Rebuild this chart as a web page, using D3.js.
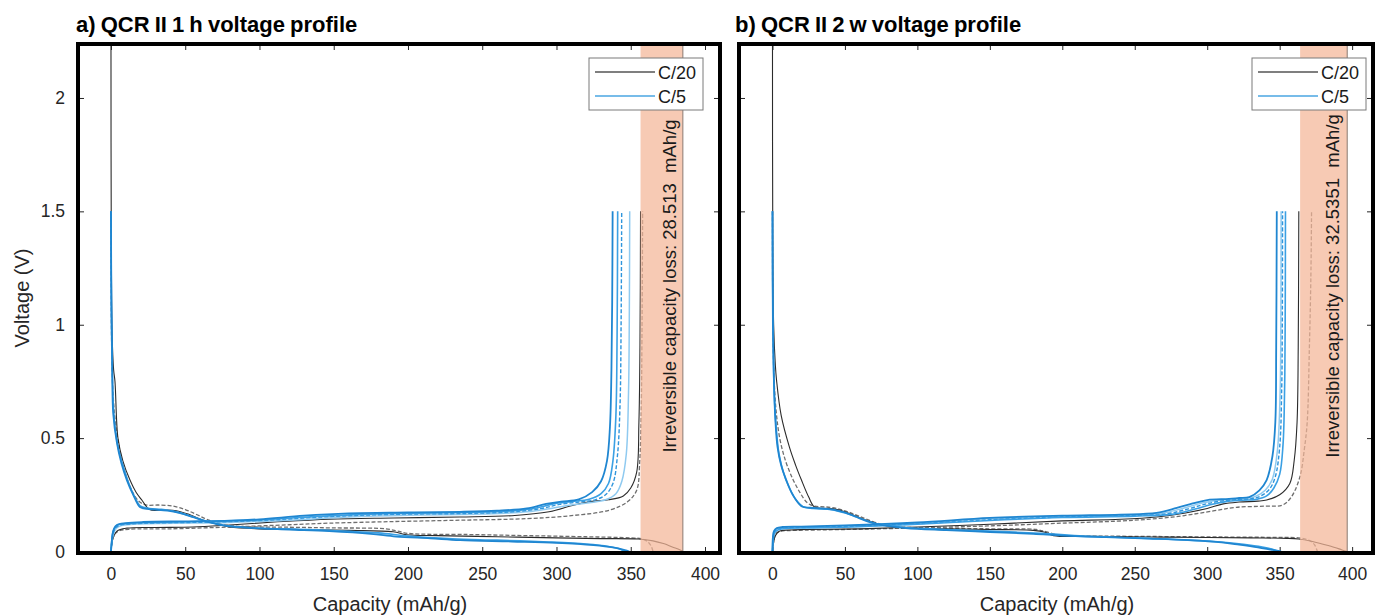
<!DOCTYPE html>
<html>
<head>
<meta charset="utf-8">
<script src="https://cdn.jsdelivr.net/npm/d3@7"></script>
<style>
  body { margin: 0; background: #fff; }
  text { font-family: "Liberation Sans", Arial, Helvetica, sans-serif; }
</style>
</head>
<body>
<div class="canva"></div>
<script>
// ---- data: [capacity mAh/g, voltage V] ----
const xTicks = [0, 50, 100, 150, 200, 250, 300, 350, 400];
const yTicks = [0, 0.5, 1, 1.5, 2];
const yTickLabels = ["0", "0.5", "1", "1.5", "2"];
const legendLabels = ["C/20", "C/5"];

// panel a) QCR II 1 h
const aC20Dis1 = [[0,2.3],[0.2,1.4],[0.8,0.95],[1.8,0.8],[2.7,0.75],[4.7,0.5],[8,0.4],[12.8,0.315],[17,0.26],[21,0.225],[26,0.185],[35,0.183],[44,0.18],[52,0.165],[62,0.138],[72,0.12],[80,0.108],[100,0.1],[130,0.097],[160,0.093],[190,0.087],[199,0.074],[220,0.07],[260,0.065],[300,0.06],[330,0.057],[355,0.055],[365,0.047],[372,0.035],[378,0.02],[383,0.008],[385.1,0]];
const aC20Chg1 = [[0,0],[0.7,0.04],[1.5,0.06],[4,0.09],[10.7,0.103],[30,0.106],[55,0.108],[80,0.117],[110,0.13],[147,0.143],[190,0.148],[235,0.152],[270,0.158],[295,0.175],[312,0.205],[325,0.222],[335,0.228],[345,0.245],[350,0.28],[354,0.35],[355.5,0.57],[356.2,0.9],[356.6,1.5]];
const aC20Dis2 = [[0,1.5],[0.3,1.0],[1,0.75],[2.5,0.6],[5,0.48],[9,0.36],[14,0.27],[19,0.22],[24,0.205],[32,0.205],[42,0.2],[50,0.185],[58,0.162],[66,0.138],[76,0.118],[90,0.11],[120,0.107],[150,0.104],[185,0.1],[193,0.09],[200,0.08],[240,0.075],[280,0.07],[320,0.065],[350,0.06],[358,0.055],[362,0.04],[364,0.02],[365,0]];
const aC20Chg2 = [[0,0],[0.8,0.04],[2,0.07],[5,0.09],[12,0.098],[40,0.1],[80,0.108],[120,0.118],[147,0.125],[190,0.132],[235,0.138],[280,0.145],[310,0.158],[336,0.183],[348,0.22],[354,0.27],[356,0.39],[357,0.6],[357.6,1],[358,1.5]];
const aC5Dis1 = [[0,1.5],[0.3,1.1],[0.9,0.8],[1.5,0.61],[4,0.48],[7,0.39],[10.7,0.315],[15,0.25],[19.5,0.196],[24,0.188],[30,0.185],[38,0.18],[46,0.17],[56,0.15],[66,0.13],[78,0.113],[95,0.104],[120,0.097],[147,0.09],[175,0.078],[192,0.066],[215,0.058],[235,0.05],[270,0.044],[300,0.038],[325,0.028],[338,0.018],[346,0.006],[349,0]];
const aC5Dis2 = [[0,1.5],[0.3,1.05],[1,0.75],[2,0.6],[4.5,0.47],[8,0.38],[12,0.3],[16,0.24],[20,0.2],[26,0.19],[34,0.186],[42,0.178],[52,0.16],[62,0.138],[74,0.118],[90,0.106],[115,0.1],[147,0.093],[180,0.082],[200,0.068],[230,0.056],[260,0.05],[295,0.042],[320,0.033],[335,0.022],[343,0.01],[346,0]];
const aC5Chg1 = [[0,0],[0.5,0.04],[1,0.075],[2,0.1],[4,0.117],[10,0.125],[21.5,0.13],[50,0.133],[80,0.136],[100,0.142],[130,0.158],[160,0.168],[200,0.172],[235,0.175],[260,0.18],[280,0.19],[293,0.21],[303,0.22],[315,0.23],[324,0.262],[330,0.31],[334,0.4],[336,0.55],[337,0.8],[337.5,1.1],[337.8,1.5]];
const aC5Chg2 = [[0,0],[0.5,0.045],[1.2,0.08],[2.5,0.105],[5,0.118],[12,0.124],[25,0.128],[60,0.132],[100,0.139],[140,0.155],[180,0.166],[230,0.171],[265,0.177],[285,0.19],[298,0.21],[310,0.22],[322,0.23],[330,0.255],[335,0.3],[338,0.4],[340,0.6],[340.8,0.95],[341.2,1.5]];
const aC5Chg3 = [[0,0],[0.6,0.045],[1.5,0.08],[3,0.104],[6,0.116],[14,0.122],[30,0.126],[70,0.13],[110,0.14],[150,0.155],[190,0.164],[240,0.168],[270,0.175],[290,0.19],[302,0.208],[315,0.218],[326,0.228],[333,0.25],[338,0.3],[341,0.42],[342.8,0.65],[343.5,1.0],[343.9,1.5]];
const aC5Chg4 = [[0,0],[0.7,0.045],[1.8,0.08],[3.5,0.102],[7,0.114],[15,0.12],[35,0.124],[80,0.128],[120,0.138],[160,0.152],[200,0.16],[250,0.165],[280,0.175],[298,0.192],[310,0.205],[322,0.215],[333,0.228],[340,0.255],[344,0.31],[347,0.43],[348.5,0.7],[349,1.0],[349.3,1.5]];

// panel b) QCR II 2 w
const bC20Dis1 = [[0,2.3],[0.2,1.4],[0.8,1.0],[2,0.82],[2.8,0.756],[6,0.6],[11.7,0.46],[16,0.38],[20,0.315],[25,0.24],[29,0.196],[35,0.19],[42,0.188],[50,0.175],[58,0.155],[66,0.135],[76,0.117],[92,0.104],[120,0.1],[150,0.097],[180,0.093],[188,0.085],[194,0.07],[220,0.067],[260,0.064],[300,0.062],[330,0.06],[355,0.058],[363,0.055],[372,0.045],[380,0.032],[388,0.018],[393,0.007],[396.6,0]];
const bC20Chg1 = [[0,0],[0.8,0.04],[2,0.07],[5,0.09],[12,0.095],[23,0.097],[60,0.1],[100,0.108],[150,0.12],[200,0.135],[240,0.142],[265,0.152],[285,0.17],[300,0.19],[311,0.21],[322,0.218],[335,0.222],[341,0.227],[350,0.25],[357,0.3],[360,0.4],[362,0.57],[362.8,0.9],[363.2,1.5]];
const bC20Dis2 = [[0,1.5],[0.3,1.0],[1,0.78],[2.5,0.62],[5,0.5],[9,0.4],[14,0.32],[19,0.26],[24,0.215],[29,0.2],[36,0.197],[44,0.19],[52,0.175],[60,0.155],[70,0.13],[80,0.113],[100,0.105],[150,0.1],[182,0.097],[190,0.085],[198,0.072],[230,0.068],[270,0.066],[310,0.064],[350,0.062],[363,0.06],[370,0.05],[374,0.03],[376,0]];
const bC20Chg2 = [[0,0],[1,0.05],[2.5,0.08],[6,0.09],[15,0.093],[50,0.097],[100,0.104],[150,0.113],[200,0.125],[250,0.138],[280,0.155],[305,0.18],[320,0.195],[340,0.2],[352,0.205],[358,0.24],[364,0.33],[367,0.45],[369,0.57],[370.5,0.9],[371.5,1.2],[372,1.5]];
const bC5Dis1 = [[0,1.5],[0.3,1.0],[1,0.75],[2,0.58],[3.5,0.46],[6,0.38],[9.5,0.315],[14,0.25],[20,0.2],[26,0.193],[34,0.19],[42,0.185],[50,0.172],[58,0.152],[66,0.132],[76,0.116],[92,0.103],[120,0.094],[150,0.086],[180,0.078],[200,0.07],[230,0.063],[260,0.057],[288,0.05],[310,0.04],[322,0.03],[335,0.018],[345,0.007],[351,0]];
const bC5Dis2 = [[0,1.5],[0.4,0.95],[1.2,0.7],[2.5,0.55],[4.5,0.43],[7.5,0.35],[11,0.29],[16,0.23],[21,0.198],[28,0.19],[38,0.186],[46,0.177],[55,0.16],[64,0.138],[74,0.12],[90,0.107],[120,0.097],[150,0.09],[185,0.08],[215,0.068],[250,0.06],[280,0.052],[305,0.044],[325,0.032],[338,0.02],[346,0.008],[349,0]];
const bC5Chg1 = [[0,0],[0.3,0.064],[1,0.09],[3,0.103],[7,0.108],[20,0.11],[50,0.115],[100,0.128],[150,0.148],[200,0.158],[240,0.163],[265,0.17],[279,0.192],[290,0.212],[300,0.227],[315,0.232],[322,0.236],[329,0.24],[336,0.27],[341,0.315],[345,0.42],[347,0.57],[347.6,0.9],[348,1.5]];
const bC5Chg2 = [[0,0],[0.4,0.06],[1.2,0.088],[3.5,0.1],[8,0.106],[20,0.108],[50,0.113],[100,0.125],[150,0.144],[200,0.155],[240,0.16],[268,0.168],[283,0.19],[294,0.21],[305,0.224],[318,0.23],[328,0.235],[334,0.245],[340,0.27],[345,0.32],[348.5,0.45],[350.3,0.7],[350.8,1.0],[351,1.5]];
const bC5Chg3 = [[0,0],[0.5,0.058],[1.4,0.086],[4,0.098],[9,0.104],[22,0.106],[55,0.111],[100,0.122],[150,0.14],[200,0.152],[245,0.158],[272,0.166],[287,0.188],[298,0.208],[309,0.222],[320,0.228],[330,0.232],[337,0.245],[343,0.275],[347,0.33],[350,0.46],[351.4,0.72],[351.8,1.0],[352,1.5]];
const bC5Chg4 = [[0,0],[0.6,0.055],[1.6,0.084],[4.5,0.097],[10,0.102],[25,0.104],[60,0.109],[100,0.12],[150,0.137],[200,0.15],[250,0.156],[277,0.165],[291,0.186],[302,0.206],[313,0.22],[324,0.226],[334,0.23],[341,0.245],[346,0.28],[350,0.34],[352.3,0.47],[353.4,0.72],[353.8,1.0],[354,1.5]];

// irreversible capacity loss band [start, end] and label
const aBand = [356.6, 385.1];
const bBand = [364.1, 396.6];
const aLoss = "28.513";
const bLoss = "32.5351";

// ---- styles ----
const black = { stroke: "#2b2b2b", width: 1.1, dash: null };
const grayDash = { stroke: "#6e6e6e", width: 1.3, dash: "4,2" };
const blueDark = { stroke: "#1f86d1", width: 1.8, dash: null };
const blueMid = { stroke: "#3aa0e4", width: 1.6, dash: null };
const blueDash = { stroke: "#2f95dc", width: 1.4, dash: "4,2" };
const blueLight = { stroke: "#8fcaf0", width: 1.5, dash: null };

const panels = [
  {
    title: "a) QCR II 1 h voltage profile", titleX: 76,
    left: 78, right: 720, xDomain: [-22.2, 410.1], xLabelX: 390,
    band: aBand, loss: aLoss, showY: true, legendX: 589,
    curves: [
      [aC20Dis2, grayDash], [aC20Chg2, grayDash], [aC20Dis1, black], [aC20Chg1, black],
      [aC5Chg4, blueLight], [aC5Chg3, blueDash], [aC5Chg2, blueMid], [aC5Chg1, blueDark],
      [aC5Dis2, blueMid], [aC5Dis1, blueDark]
    ]
  },
  {
    title: "b) QCR II 2 w voltage profile", titleX: 735,
    left: 739, right: 1373, xDomain: [-23.1, 414.4], xLabelX: 1057,
    band: bBand, loss: bLoss, showY: false, legendX: 1252,
    curves: [
      [bC20Dis2, grayDash], [bC20Chg2, grayDash], [bC20Dis1, black], [bC20Chg1, black],
      [bC5Chg2, blueLight], [bC5Chg3, blueDash], [bC5Chg4, blueMid], [bC5Chg1, blueDark],
      [bC5Dis2, blueMid], [bC5Dis1, blueDark]
    ]
  }
];

const plotTop = 44, plotBottom = 553;

const svg = d3.select(".canva").append("svg")
  .attr("width", 1392)
  .attr("height", 616);

svg.append("rect").attr("width", 1392).attr("height", 616).attr("fill", "#fff");

const y = d3.scaleLinear().domain([-0.0066, 2.238]).range([plotBottom, plotTop]);

panels.forEach((p, i) => {
  const x = d3.scaleLinear().domain(p.xDomain).range([p.left, p.right]);
  const g = svg.append("g");

  const clipId = "clip" + i;
  svg.append("clipPath").attr("id", clipId)
    .append("rect")
    .attr("x", p.left).attr("y", plotTop)
    .attr("width", p.right - p.left).attr("height", plotBottom - plotTop);

  // title
  g.append("text")
    .attr("x", p.titleX).attr("y", 32)
    .attr("font-size", 22).attr("font-weight", "bold")
    .attr("word-spacing", -1)
    .attr("fill", "#000")
    .text(p.title);

  // axes with inward ticks
  const tickStyle = sel => {
    sel.select(".domain").remove();
    sel.selectAll(".tick line").attr("stroke", "#262626");
    sel.selectAll(".tick text").attr("fill", "#262626").attr("font-size", 17.5)
      .attr("font-family", "'Liberation Sans', Arial, sans-serif");
  };
  g.append("g").attr("transform", `translate(0,${plotBottom})`)
    .call(d3.axisBottom(x).tickValues(xTicks).tickSize(-6).tickPadding(15))
    .call(tickStyle);
  g.append("g").attr("transform", `translate(0,${plotTop})`)
    .call(d3.axisTop(x).tickValues(xTicks).tickSize(-6).tickFormat(""))
    .call(tickStyle);
  g.append("g").attr("transform", `translate(${p.left},0)`)
    .call(d3.axisLeft(y).tickValues(yTicks).tickSize(-6).tickPadding(13)
      .tickFormat((d, k) => p.showY ? yTickLabels[k] : ""))
    .call(tickStyle);
  g.append("g").attr("transform", `translate(${p.right},0)`)
    .call(d3.axisRight(y).tickValues(yTicks).tickSize(-6).tickFormat(""))
    .call(tickStyle);

  // zero line
  g.append("line")
    .attr("x1", p.left).attr("x2", p.right)
    .attr("y1", y(0)).attr("y2", y(0))
    .attr("stroke", "#b5b5b5").attr("stroke-width", 1.2);

  // curves
  const line = d3.line()
    .x(d => x(d[0]))
    .y(d => y(d[1]))
    .curve(d3.curveCatmullRom.alpha(0.5));

  const plot = g.append("g").attr("clip-path", `url(#${clipId})`);
  p.curves.forEach(([data, st]) => {
    plot.append("path")
      .datum(data)
      .attr("d", line)
      .attr("fill", "none")
      .attr("stroke", st.stroke)
      .attr("stroke-width", st.width)
      .attr("stroke-dasharray", st.dash)
      .attr("stroke-linejoin", "round");
  });

  // irreversible capacity loss band
  plot.append("rect")
    .attr("x", x(p.band[0])).attr("y", plotTop)
    .attr("width", x(p.band[1]) - x(p.band[0]))
    .attr("height", y(0) - plotTop)
    .attr("fill", "#f4b697").attr("fill-opacity", 0.72);
  plot.append("line")
    .attr("x1", x(p.band[1])).attr("x2", x(p.band[1]))
    .attr("y1", plotTop).attr("y2", y(0))
    .attr("stroke", "#8a7a72").attr("stroke-width", 1);

  const bx = x(p.band[0]) + 0.7 * (x(p.band[1]) - x(p.band[0]));
  g.append("text")
    .attr("transform", `translate(${bx + 6},286) rotate(-90)`)
    .attr("text-anchor", "middle")
    .attr("font-size", 18.5)
    .attr("fill", "#1a1a1a")
    .style("white-space", "pre")
    .text(`Irreversible capacity loss: ${p.loss}  mAh/g`);

  // legend
  const lg = g.append("g").attr("transform", `translate(${p.legendX},58)`);
  lg.append("rect")
    .attr("width", 114).attr("height", 52)
    .attr("fill", "#fff").attr("stroke", "#7a7a7a").attr("stroke-width", 1);
  const legColors = ["#555", "#4aa6e2"];
  legendLabels.forEach((lab, k) => {
    lg.append("line")
      .attr("x1", 6).attr("x2", 66)
      .attr("y1", 14 + k * 24).attr("y2", 14 + k * 24)
      .attr("stroke", legColors[k]).attr("stroke-width", 1.4);
    lg.append("text")
      .attr("x", 69).attr("y", 14 + k * 24 + 6.5)
      .attr("font-size", 18).attr("fill", "#1a1a1a")
      .text(lab);
  });

  // axis labels
  g.append("text")
    .attr("x", p.xLabelX).attr("y", 611)
    .attr("text-anchor", "middle")
    .attr("font-size", 20).attr("fill", "#262626")
    .text("Capacity (mAh/g)");
  if (p.showY) {
    g.append("text")
      .attr("transform", "translate(29,298) rotate(-90)")
      .attr("text-anchor", "middle")
      .attr("font-size", 20).attr("fill", "#262626")
      .text("Voltage (V)");
  }

  // thick box
  g.append("rect")
    .attr("x", p.left).attr("y", plotTop)
    .attr("width", p.right - p.left).attr("height", plotBottom - plotTop)
    .attr("fill", "none").attr("stroke", "#000").attr("stroke-width", 4);
});
</script>
</body>
</html>
